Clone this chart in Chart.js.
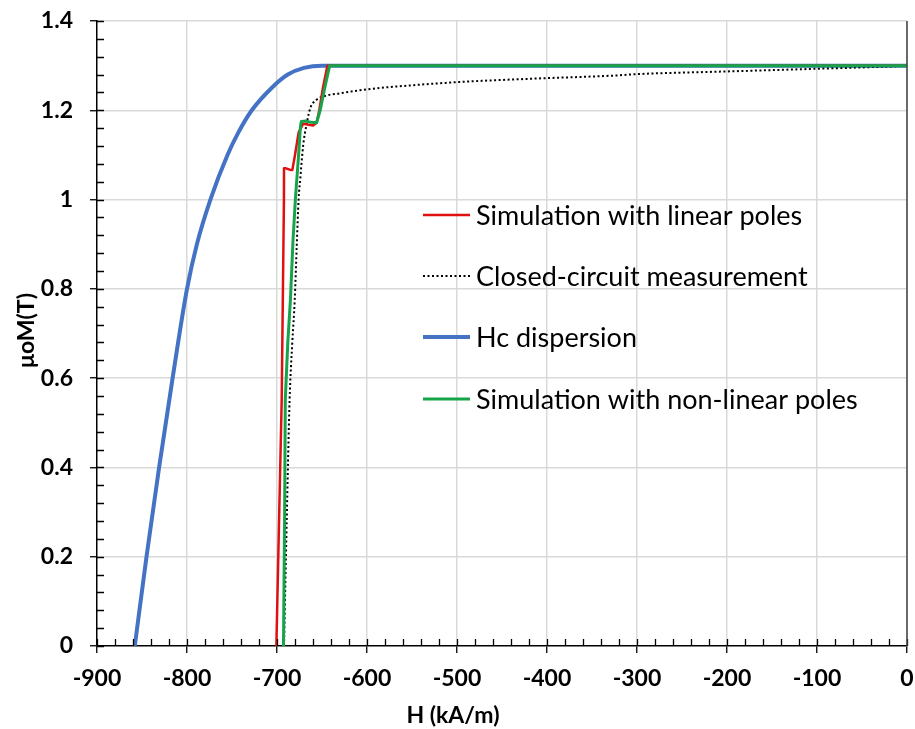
<!DOCTYPE html>
<html>
<head>
<meta charset="utf-8">
<script src="https://cdn.jsdelivr.net/npm/chart.js@4.4.1/dist/chart.umd.min.js"></script>
<style>
  html, body { margin: 0; padding: 0; background: #fff; }
  #wrap { width: 915px; height: 729px; }
</style>
</head>
<body>
<div id="wrap"><canvas id="chart" width="915" height="729"></canvas></div>
<script>
  // Demagnetization curves, H in kA/m, polarisation in T.
  const linearH = [-700.7, -697.5, -694.8, -692.3, -692.2, -690, -686, -683, -680, -676, -671, -666, -660, -656, -653, -649, -644, -640, 0];
  const linearM = [0, 0.3, 0.55, 1.0, 1.07, 1.07, 1.067, 1.066, 1.1, 1.15, 1.17, 1.168, 1.166, 1.172, 1.2, 1.25, 1.3, 1.3, 1.3];

  const closedH = [-692.2, -689, -686, -683, -680.3, -678, -676, -674, -671, -667, -663, -657, -647, -630, -600, -550, -500, -450, -400, -323, -300, -200, -100, -50, -8, 0];
  const closedM = [0, 0.3, 0.551, 0.68, 0.775, 0.9, 1.0, 1.05, 1.12, 1.17, 1.205, 1.222, 1.232, 1.238, 1.247, 1.256, 1.263, 1.268, 1.272, 1.278, 1.281, 1.287, 1.293, 1.296, 1.299, 1.3];

  const hcH = [-858, -845, -831, -816, -800, -789, -774, -755, -743, -728, -706, -688, -670, -650, -630, 0];
  const hcM = [0, 0.2, 0.4, 0.6, 0.8, 0.9, 1.0, 1.1, 1.15, 1.2, 1.25, 1.28, 1.295, 1.3, 1.3, 1.3];

  const nonlinH = [-692.8, -691.5, -690.8, -688, -685.1, -682.2, -679.6, -677.8, -676, -674, -673, -668, -662, -656, -652, -647, -641.5, -638, 0];
  const nonlinM = [0, 0.3, 0.551, 0.68, 0.775, 0.909, 1.0, 1.05, 1.1, 1.163, 1.175, 1.176, 1.173, 1.172, 1.2, 1.25, 1.3, 1.3, 1.3];

  const seriesLabels = [
    "Simulation with linear poles",
    "Closed-circuit measurement",
    "Hc dispersion",
    "Simulation with non-linear poles",
  ];

  const X_MIN = -900, X_MAX = 0, X_MAJOR = 100, X_MINOR = 20;
  const Y_MIN = 0, Y_MAX = 1.4, Y_MAJOR = 0.2, Y_MINOR = 0.04;

  const COLORS = {
    linear: "#e01010",
    closed: "#000000",
    hc: "#4472c4",
    nonlin: "#16a34a",
    grid: "#d9d9d9",
    axis: "#000000",
    text: "#000000",
  };

  const FONT = "Lato, 'Open Sans', sans-serif";

  function zip(xs, ys) {
    return xs.map(function (x, i) { return { x: x, y: ys[i] }; });
  }

  function isMajor(v, step) {
    const r = v / step;
    return Math.abs(r - Math.round(r)) < 1e-6;
  }

  function stepTicks(min, max, step) {
    const out = [];
    const n = Math.round((max - min) / step);
    for (let i = 0; i <= n; i++) out.push({ value: Math.round((min + i * step) * 1000) / 1000 });
    return out;
  }

  // Inner minor/major tick marks, the dark line at H = 0, legend and axis titles.
  const decorations = {
    id: "decorations",
    afterDatasetsDraw(chart) {
      const ctx = chart.ctx;
      const area = chart.chartArea;
      const xs = chart.scales.x, ys = chart.scales.y;
      ctx.save();
      ctx.strokeStyle = COLORS.axis;
      ctx.lineWidth = 1.3;
      ctx.beginPath();
      xs.ticks.forEach(function (t) {
        const px = Math.round(xs.getPixelForValue(t.value)) + 0.5;
        ctx.moveTo(px, area.bottom);
        ctx.lineTo(px, area.bottom - 7);
      });
      ys.ticks.forEach(function (t) {
        const py = Math.round(ys.getPixelForValue(t.value)) + 0.5;
        ctx.moveTo(area.left, py);
        ctx.lineTo(area.left + 7, py);
      });
      ctx.stroke();

      // right-hand edge at H = 0
      ctx.strokeStyle = "#404040";
      ctx.lineWidth = 1.5;
      ctx.beginPath();
      const x0 = xs.getPixelForValue(0);
      ctx.moveTo(x0, area.top);
      ctx.lineTo(x0, area.bottom);
      ctx.stroke();

      // legend
      const rows = [215, 276, 337, 399];
      const left = 423, right = 470, textX = 476;
      ctx.font = "27px " + FONT;
      ctx.textBaseline = "middle";
      ctx.textAlign = "left";
      chart.data.datasets.forEach(function (ds, i) {
        const y = rows[i];
        ctx.beginPath();
        ctx.strokeStyle = ds.borderColor;
        ctx.lineWidth = ds.borderWidth;
        ctx.setLineDash(ds.borderDash || []);
        ctx.moveTo(left, y);
        ctx.lineTo(right, y);
        ctx.stroke();
        ctx.setLineDash([]);
        ctx.fillStyle = COLORS.text;
        ctx.fillText(ds.label, textX, y + 1);
      });

      // axis titles
      ctx.font = "bold 23px " + FONT;
      ctx.fillStyle = COLORS.text;
      ctx.textAlign = "center";
      ctx.fillText("H (kA/m)", 453, 716);
      ctx.translate(27, (area.top + area.bottom) / 2 - 3);
      ctx.rotate(-Math.PI / 2);
      ctx.fillText("\u03BCoM(T)", 0, 0);
      ctx.restore();
    },
  };

  // Fixed margins: no automatic room for half-labels at the ends of the axes.
  function pinPadding(scale) {
    scale.paddingLeft = 0;
    scale.paddingRight = 0;
    scale.paddingTop = 0;
    scale.paddingBottom = 0;
  }

  const ctx = document.getElementById("chart").getContext("2d");
  new Chart(ctx, {
    type: "line",
    data: {
      datasets: [
        {
          label: seriesLabels[0],
          data: zip(linearH, linearM),
          borderColor: COLORS.linear,
          borderWidth: 2.5,
          tension: 0,
          order: 1,
        },
        {
          label: seriesLabels[1],
          data: zip(closedH, closedM),
          borderColor: COLORS.closed,
          borderWidth: 2,
          borderDash: [2, 2.5],
          cubicInterpolationMode: "monotone",
          order: 2,
        },
        {
          label: seriesLabels[2],
          data: zip(hcH, hcM),
          borderColor: COLORS.hc,
          borderWidth: 4,
          cubicInterpolationMode: "monotone",
          order: 3,
        },
        {
          label: seriesLabels[3],
          data: zip(nonlinH, nonlinM),
          borderColor: COLORS.nonlin,
          borderWidth: 3,
          tension: 0,
          order: 0,
        },
      ],
    },
    options: {
      responsive: false,
      animation: false,
      events: [],
      layout: { padding: { top: 21, right: 8, left: 0, bottom: 0 } },
      elements: { point: { radius: 0 }, line: { fill: false, borderCapStyle: "butt", borderJoinStyle: "round" } },
      plugins: { legend: { display: false }, tooltip: { enabled: false } },
      scales: {
        x: {
          type: "linear",
          min: X_MIN,
          max: X_MAX,
          afterBuildTicks(scale) { scale.ticks = stepTicks(X_MIN, X_MAX, X_MINOR); },
          afterFit(scale) { scale.height = 83; pinPadding(scale); },
          border: { color: COLORS.axis, width: 1.5 },
          grid: {
            color(c) { return isMajor(c.tick.value, X_MAJOR) && c.tick.value !== X_MIN ? COLORS.grid : "rgba(0,0,0,0)"; },
            lineWidth: 1.5,
            tickLength: 7,
            tickColor(c) { return isMajor(c.tick.value, X_MAJOR) ? COLORS.axis : "rgba(0,0,0,0)"; },
            tickWidth: 1.3,
          },
          ticks: {
            autoSkip: false,
            maxRotation: 0,
            padding: 12,
            color: COLORS.text,
            font: { family: FONT, size: 23, weight: "bold" },
            callback(v) { return isMajor(v, X_MAJOR) ? String(Math.round(v)) : ""; },
          },
        },
        y: {
          type: "linear",
          min: Y_MIN,
          max: Y_MAX,
          afterBuildTicks(scale) { scale.ticks = stepTicks(Y_MIN, Y_MAX, Y_MINOR); },
          afterFit(scale) { scale.width = 97; pinPadding(scale); },
          border: { color: COLORS.axis, width: 1.5 },
          grid: {
            color(c) { return isMajor(c.tick.value, Y_MAJOR) && c.tick.value !== Y_MIN ? COLORS.grid : "rgba(0,0,0,0)"; },
            lineWidth: 1.5,
            tickLength: 7,
            tickColor(c) { return isMajor(c.tick.value, Y_MAJOR) ? COLORS.axis : "rgba(0,0,0,0)"; },
            tickWidth: 1.3,
          },
          ticks: {
            autoSkip: false,
            padding: 17,
            color: COLORS.text,
            font: { family: FONT, size: 23, weight: "bold" },
            callback(v) { return isMajor(v, Y_MAJOR) ? String(Math.round(v * 10) / 10) : ""; },
          },
        },
      },
    },
    plugins: [decorations],
  });
</script>
</body>
</html>
